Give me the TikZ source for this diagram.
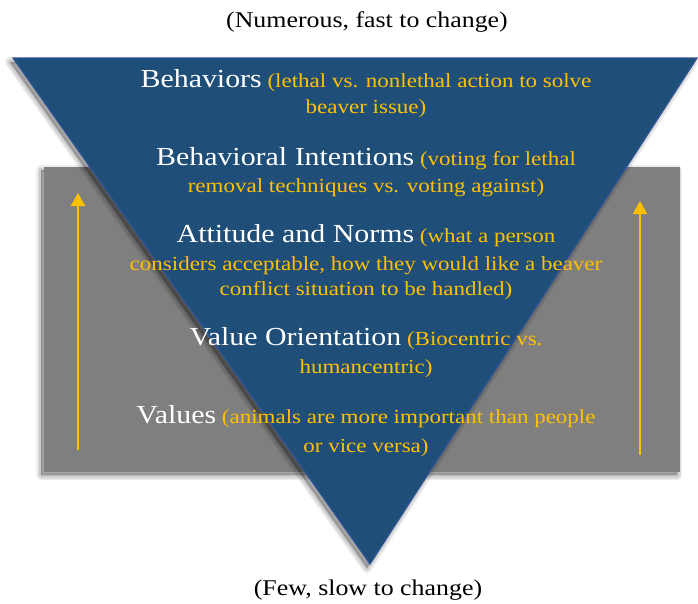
\documentclass[tikz,border=0pt]{standalone}
\usepackage{fontspec}
\setmainfont{Liberation Serif}[FakeStretch=1.15]
\usetikzlibrary{arrows.meta}
\definecolor{pyrblue}{HTML}{1F4E79}
\definecolor{pyredge}{HTML}{2F5597}
\definecolor{goldtxt}{HTML}{FFC000}
\definecolor{boxgray}{HTML}{7F7F7F}
\newcommand{\ttl}[1]{{\color{white}\fontsize{26}{30}\selectfont #1}}
\newcommand{\sbt}[1]{{\color{goldtxt}\fontsize{20}{24}\selectfont\ #1}}
\tikzset{
  subtxt/.style={font=\fontsize{20}{24}\selectfont, text=goldtxt},
  linebase/.style={anchor=base, inner sep=0pt},
  endlabel/.style={anchor=base, inner sep=0pt, font=\fontsize{22.5}{26}\selectfont, text=black},
  uparrow/.style={draw=goldtxt, line width=2pt, -{Triangle[width=14pt,length=13pt]}},
  shadowlayer/.style={draw=black, fill=black, opacity=0.07, line join=round}
}
\begin{document}
\begin{tikzpicture}[x=1pt,y=-1pt]
\useasboundingbox (0,0) rectangle (698,603);
% soft shadow of the gray box
\foreach \w in {10,7,4,1}{
  \path[shadowlayer, line width=\w pt] (41,170) rectangle (677,475);
}
% gray background box
\node[fill=boxgray, draw=none, minimum width=636pt, minimum height=305pt, inner sep=0pt, anchor=north west] (box) at (44,167) {};
% arrows
\coordinate (la0) at (78,450);
\coordinate (la1) at (78,193);
\coordinate (ra0) at (640,455);
\coordinate (ra1) at (640,201);
\draw[uparrow] (la0) -- (la1);
\draw[uparrow] (ra0) -- (ra1);
% soft shadow of the triangle
\foreach \w in {10,7,4,1}{
  \path[shadowlayer, line width=\w pt] (10,62) -- (693,62) -- (367,568) -- cycle;
}
% inverted triangle
\coordinate (tl) at (13,58);
\coordinate (tr) at (697,58);
\coordinate (tb) at (370,564);
\filldraw[fill=pyrblue, draw=pyredge, line width=1.2pt, line join=miter] (tl) -- (tr) -- (tb) -- cycle;
% texts
\node[linebase] (l1) at (366,87) {\ttl{Behaviors}\sbt{(lethal vs. nonlethal action to solve}};
\node[linebase, subtxt] (l2) at (366,113) {beaver issue)};
\node[linebase] (l3) at (366,165) {\ttl{Behavioral Intentions}\sbt{(voting for lethal}};
\node[linebase, subtxt] (l4) at (366,192) {removal techniques vs. voting against)};
\node[linebase] (l5) at (366,242) {\ttl{Attitude and Norms}\sbt{(what a person}};
\node[linebase, subtxt] (l6) at (366,270) {considers acceptable, how they would like a beaver};
\node[linebase, subtxt] (l7) at (366,295) {conflict situation to be handled)};
\node[linebase] (l8) at (366,345) {\ttl{Value Orientation}\sbt{(Biocentric vs.}};
\node[linebase, subtxt] (l9) at (366,373) {humancentric)};
\node[linebase] (l10) at (366,423) {\ttl{Values}\sbt{(animals are more important than people}};
\node[linebase, subtxt] (l11) at (366,452) {or vice versa)};
\node[endlabel] (top) at (367,27) {(Numerous, fast to change)};
\node[endlabel] (bot) at (368,595) {(Few, slow to change)};
\end{tikzpicture}
\end{document}
